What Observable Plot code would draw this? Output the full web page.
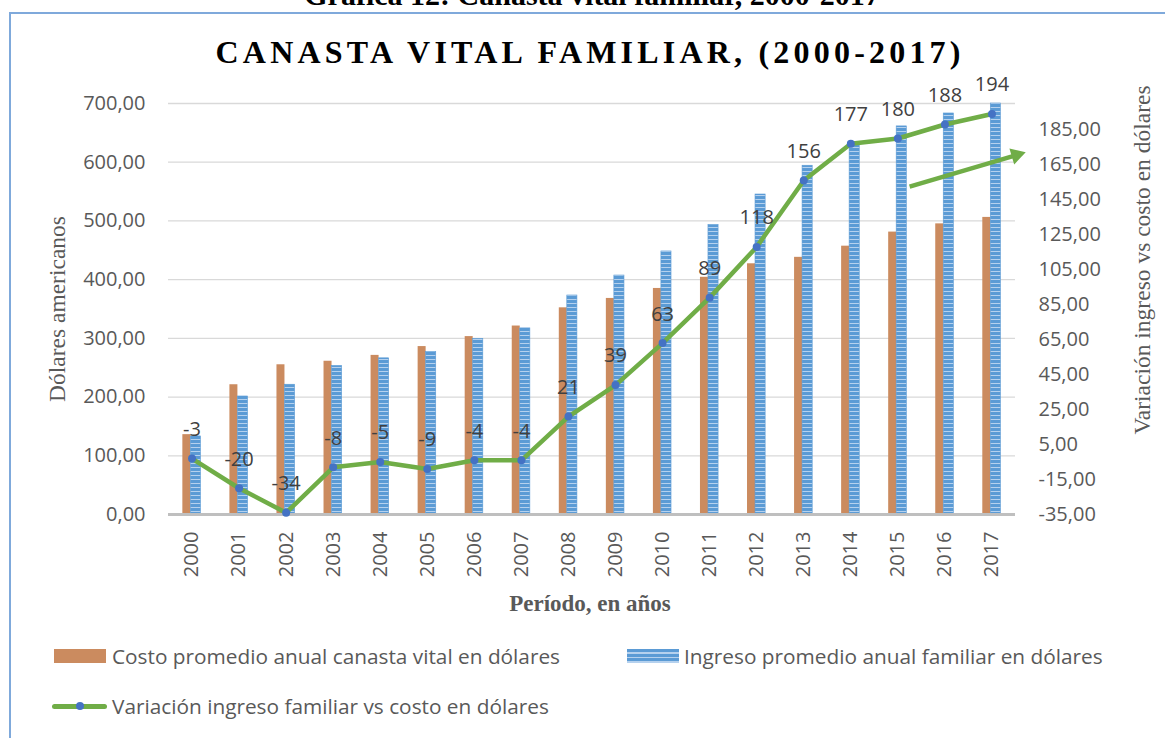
<!DOCTYPE html>
<html>
<head>
<meta charset="utf-8">
<script src="https://cdn.jsdelivr.net/npm/d3@7"></script>
<script src="https://cdn.jsdelivr.net/npm/@observablehq/plot@0.6"></script>
<style>
  body { margin: 0; background: #fff; }
  #wrap { position: relative; width: 1165px; height: 738px; overflow: hidden; font-family: "Open Sans", sans-serif; background:#fff; }
  #chart { position: absolute; left: 0; top: 0; }
  .frame { position: absolute; left: 9px; top: 12px; width: 1300px; height: 900px; border-left: 2px solid #7FA9DB; border-top: 2px solid #7FA9DB; }
  .cut { position: absolute; top: -20px; left: 592px; transform: translateX(-50%); white-space: nowrap; font: bold 30px "Liberation Serif", "Times New Roman", serif; line-height: 1; color: #000; }
  .title { position: absolute; top: 36px; left: 588px; transform: translateX(-50%); white-space: nowrap; font: bold 32px "Liberation Serif", "Times New Roman", serif; letter-spacing: 4.2px; padding-left: 4.2px; line-height: 1; color: #000; }
  .xtitle { position: absolute; top: 592px; left: 590px; transform: translateX(-50%); white-space: nowrap; font: bold 23px "Liberation Serif", "Times New Roman", serif; line-height: 1; color: #595959; }
  .ytitle { position: absolute; white-space: nowrap; font: 23.5px "Liberation Serif", "Times New Roman", serif; line-height: 1; color: #595959; transform: translate(-50%, -50%) rotate(-90deg); }
  .leg { position: absolute; font-size: 20.8px; line-height: 24px; color: #595959; white-space: nowrap; }
  .sw { position: absolute; }
</style>
</head>
<body>
<div id="wrap">
  <div class="frame"></div>
  <div class="cut">Gráfica 12: Canasta vital familiar, 2000-2017</div>
  <div class="title">CANASTA VITAL FAMILIAR, (2000-2017)</div>
  <div id="chart"></div>
  <div class="xtitle">Período, en años</div>
  <div class="ytitle" style="left:58px;top:309px;">Dólares americanos</div>
  <div class="ytitle" style="left:1143px;top:260px;">Variación ingreso vs costo en dólares</div>

  <div class="sw" style="left:54px;top:649px;width:52px;height:14px;background:#CB8B5F;"></div>
  <div class="leg" style="left:112px;top:644px;">Costo promedio anual canasta vital en dólares</div>
  <div class="sw" style="left:627px;top:649px;width:52px;height:14px;background:repeating-linear-gradient(to bottom,#5B9BD5 0px,#5B9BD5 3px,#B5D1EE 3px,#B5D1EE 4.7px);"></div>
  <div class="leg" style="left:684px;top:644px;">Ingreso promedio anual familiar en dólares</div>
  <div class="sw" style="left:52px;top:703.5px;width:55px;height:5px;border-radius:3px;background:#70AD47;"></div>
  <div class="sw" style="left:75.5px;top:702px;width:8px;height:8px;border-radius:50%;background:#4472C4;"></div>
  <div class="leg" style="left:112px;top:694px;">Variación ingreso familiar vs costo en dólares</div>
</div>
<script>
const years = [2000, 2001, 2002, 2003, 2004, 2005, 2006, 2007, 2008, 2009, 2010, 2011, 2012, 2013, 2014, 2015, 2016, 2017];
const costo = [136, 221, 255, 261, 271, 286, 303, 321, 352, 368, 385, 404, 427, 438, 457, 481, 495, 506];
const ingreso = [133, 201, 221, 253, 266, 277, 299, 317, 373, 407, 448, 493, 545, 594, 634, 661, 683, 700];
const variacion = [-3, -20, -34, -8, -5, -9, -4, -4, 21, 39, 63, 89, 118, 156, 177, 180, 188, 194];
const leftTicks = [0, 100, 200, 300, 400, 500, 600, 700];
const rightTicks = [-35, -15, 5, 25, 45, 65, 85, 105, 125, 145, 165, 185];
const leftDomain = [0, 700];
const rightDomain = [-35, 200];
// hand-drawn annotation arrow in the original (year, right-axis value)
const arrowNote = [{ x1: 2015.25, y1: 152.5, x2: 2017.52, y2: 170.5 }];

const rows = years.map((year, i) => ({ year, costo: costo[i], ingreso: ingreso[i], variacion: variacion[i] }));
const k = (leftDomain[1] - leftDomain[0]) / (rightDomain[1] - rightDomain[0]);
const toLeft = v => leftDomain[0] + (v - rightDomain[0]) * k;
const fromLeft = v => rightDomain[0] + (v - leftDomain[0]) / k;
const fmt = v => v.toFixed(2).replace(".", ",");

const base = {
  width: 1165,
  height: 620,
  marginTop: 103,
  marginBottom: 106,
  marginLeft: 168,
  marginRight: 150,
  style: { fontFamily: '"Open Sans", sans-serif', fontSize: "20px", color: "#595959", background: "transparent", overflow: "visible" },
  x: { type: "linear", domain: [1999.5, 2017.5], axis: null },
  y: { domain: leftDomain, axis: null }
};

// arrow-head angle in screen space, from the plot's own scales
const probe = Plot.plot({ ...base, marks: [Plot.ruleY([0])] });
const sx = probe.scale("x"), sy = probe.scale("y");
const a = arrowNote[0];
const ang = Math.atan2(sy.apply(toLeft(a.y2)) - sy.apply(toLeft(a.y1)), sx.apply(a.x2) - sx.apply(a.x1)) * 180 / Math.PI;

const chart = Plot.plot({
  ...base,
  marks: [
    Plot.ruleY(leftTicks.filter(t => t > 0), { stroke: "#D9D9D9", strokeWidth: 1.3 }),
    Plot.rectY(rows, { x1: d => d.year - 0.195, x2: d => d.year - 0.025, y: "costo", fill: "#CB8B5F" }),
    Plot.rectY(rows, { x1: d => d.year - 0.025, x2: d => d.year + 0.19, y: "ingreso", fill: "url(#ingresoStripes)", stroke: "#5B9BD5", strokeWidth: 0.6 }),
    Plot.ruleY([0], { stroke: "#BFBFBF", strokeWidth: 3 }),
    Plot.axisY(leftTicks, { anchor: "left", tickSize: 0, tickPadding: 23, tickFormat: fmt, label: null, fontSize: 20 }),
    Plot.axisY(rightTicks.map(toLeft), { anchor: "right", tickSize: 0, tickPadding: 23, tickFormat: d => fmt(Math.round(fromLeft(d))), label: null, fontSize: 20 }),
    Plot.axisX(years, { anchor: "bottom", tickSize: 0, tickPadding: 17, tickRotate: -90, tickFormat: d => String(d), label: null, fontSize: 20 }),
    Plot.line(rows, { x: "year", y: d => toLeft(d.variacion), stroke: "#70AD47", strokeWidth: 4.5 }),
    Plot.dot(rows, { x: "year", y: d => toLeft(d.variacion), r: 4, fill: "#4472C4" }),
    Plot.text(rows, { x: "year", y: d => toLeft(d.variacion), text: d => String(d.variacion), dy: -29, fontSize: 20, fill: "#404040" }),
    Plot.link(arrowNote, { x1: "x1", y1: d => toLeft(d.y1), x2: "x2", y2: d => toLeft(d.y2), stroke: "#70AD47", strokeWidth: 4.5 }),
    Plot.dot(arrowNote, { x: "x2", y: d => toLeft(d.y2), symbol: "triangle2", r: 8, fill: "#70AD47", rotate: 90 + ang })
  ]
});

const defs = d3.select(chart).insert("defs", ":first-child");
const pat = defs.append("pattern").attr("id", "ingresoStripes").attr("patternUnits", "userSpaceOnUse").attr("width", 8).attr("height", 4);
pat.append("rect").attr("width", 8).attr("height", 4).attr("fill", "#5B9BD5");
pat.append("rect").attr("y", 3).attr("width", 8).attr("height", 1).attr("fill", "#B5D1EE");

document.getElementById("chart").appendChild(chart);
</script>
</body>
</html>
